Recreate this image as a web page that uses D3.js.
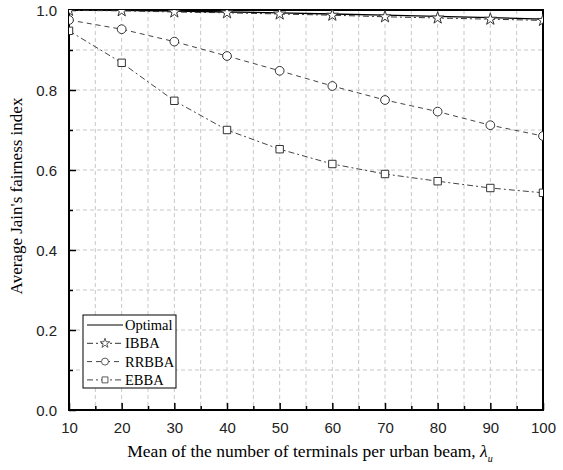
<!DOCTYPE html>
<html>
<head>
<meta charset="utf-8">
<script src="https://cdn.jsdelivr.net/npm/d3@7"></script>
<style>
  body { margin: 0; background: #fff; }
  svg { display: block; }
</style>
</head>
<body>
<div id="chart"></div>
<script>
const terminals = [10, 20, 30, 40, 50, 60, 70, 80, 90, 100]
const optimal = [1.0, 0.999, 0.997, 0.995, 0.993, 0.99, 0.987, 0.984, 0.981, 0.977]
const ibba = [0.999, 0.998, 0.995, 0.993, 0.99, 0.987, 0.983, 0.98, 0.977, 0.974]
const rrbba = [0.975, 0.952, 0.921, 0.885, 0.848, 0.81, 0.775, 0.746, 0.712, 0.685]
const ebba = [0.948, 0.868, 0.773, 0.70, 0.652, 0.615, 0.59, 0.572, 0.555, 0.543]
const xTicks = [10, 20, 30, 40, 50, 60, 70, 80, 90, 100]
const yTicks = [0.0, 0.2, 0.4, 0.6, 0.8, 1.0]

const series = [
  { name: 'Optimal', values: optimal, dash: null, marker: null, color: '#000' },
  { name: 'IBBA', values: ibba, dash: '6,3,2,3', marker: 'star', color: '#333' },
  { name: 'RRBBA', values: rrbba, dash: '5,4', marker: 'circle', color: '#444' },
  { name: 'EBBA', values: ebba, dash: '6,3,2,3', marker: 'square', color: '#444' }
]

const width = 563
const height = 470
const margin = { top: 10, right: 20, bottom: 60, left: 69 }
const iw = width - margin.left - margin.right
const ih = height - margin.top - margin.bottom

const x = d3.scaleLinear().domain([10, 100]).range([0, iw])
const y = d3.scaleLinear().domain([0, 1]).range([ih, 0])

const svg = d3.select('#chart').append('svg')
  .attr('width', width).attr('height', height)

svg.append('defs').append('clipPath').attr('id', 'clip')
  .append('rect').attr('width', iw).attr('height', ih)

const g = svg.append('g').attr('transform', `translate(${margin.left},${margin.top})`)

// grid
const grid = g.append('g').attr('stroke', '#c8c8c8').attr('stroke-dasharray', '4,3').attr('stroke-width', 1)
grid.selectAll('.gx').data(d3.range(15, 100, 5)).enter().append('line')
  .attr('x1', d => x(d)).attr('x2', d => x(d)).attr('y1', 0).attr('y2', ih)
grid.selectAll('.gy').data(d3.range(1, 10).map(d => d / 10)).enter().append('line')
  .attr('y1', d => y(d)).attr('y2', d => y(d)).attr('x1', 0).attr('x2', iw)

// axes with inward ticks
const xAxis = g.append('g').attr('transform', `translate(0,${ih})`)
  .call(d3.axisBottom(x).tickValues(xTicks).tickSizeInner(-7).tickSizeOuter(0).tickPadding(12))
const xMinor = g.append('g').attr('transform', `translate(0,${ih})`)
  .call(d3.axisBottom(x).tickValues(d3.range(15, 100, 10)).tickSizeInner(-4).tickSizeOuter(0).tickFormat(''))
const yAxis = g.append('g')
  .call(d3.axisLeft(y).tickValues(yTicks).tickSizeInner(-7).tickSizeOuter(0).tickPadding(12).tickFormat(d3.format('.1f')))
const yMinor = g.append('g')
  .call(d3.axisLeft(y).tickValues([0.1, 0.3, 0.5, 0.7, 0.9]).tickSizeInner(-4).tickSizeOuter(0).tickFormat(''))

;[xAxis, xMinor, yAxis, yMinor].forEach(a => {
  a.select('.domain').remove()
  a.selectAll('line').attr('stroke', '#000').attr('stroke-width', 1.5)
  a.selectAll('text').attr('font-family', 'Liberation Sans, Arial, sans-serif').attr('font-size', 15).attr('fill', '#222')
})
yAxis.selectAll('text').attr('dy', '0.35em')

// frame
g.append('rect').attr('width', iw).attr('height', ih)
  .attr('fill', 'none').attr('stroke', '#000').attr('stroke-width', 2)

// lines
const plot = g.append('g').attr('clip-path', 'url(#clip)')
const line = d3.line().x((d, i) => x(terminals[i])).y(d => y(d))

const star = d3.symbol().type(d3.symbolStar).size(45)
const circle = d3.symbol().type(d3.symbolCircle).size(60)
const square = d3.symbol().type(d3.symbolSquare).size(55)
const markers = { star, circle, square }

function drawMarker(sel, type) {
  sel.append('path').attr('d', markers[type]())
    .attr('fill', '#fff').attr('stroke', '#333').attr('stroke-width', 1)
}

series.forEach(s => {
  plot.append('path').datum(s.values)
    .attr('fill', 'none').attr('stroke', s.color).attr('stroke-width', s.marker ? 1 : 1.3)
    .attr('stroke-dasharray', s.dash)
    .attr('d', line)
  if (s.marker) {
    s.values.forEach((v, i) => {
      const m = plot.append('g').attr('transform', `translate(${x(terminals[i])},${y(v)})`)
      drawMarker(m, s.marker)
    })
  }
})

// legend
const lg = svg.append('g').attr('transform', 'translate(83,315)')
lg.append('rect').attr('width', 93).attr('height', 73)
  .attr('fill', '#fff').attr('stroke', '#000').attr('stroke-width', 1)
series.forEach((s, i) => {
  const row = lg.append('g').attr('transform', `translate(0,${10 + i * 18.3})`)
  row.append('line').attr('x1', 4).attr('x2', 40).attr('y1', 0).attr('y2', 0)
    .attr('stroke', s.color).attr('stroke-width', 1).attr('stroke-dasharray', s.dash)
  if (s.marker) {
    const m = row.append('g').attr('transform', 'translate(22,0)')
    drawMarker(m, s.marker)
    m.select('path').attr('transform', 'scale(0.8)')
  }
  row.append('text').attr('x', 42).attr('y', 0).attr('dy', '0.35em')
    .attr('font-family', 'Liberation Serif, Times New Roman, serif').attr('font-size', 14.5)
    .text(s.name)
})

// axis titles
const xt = svg.append('text')
  .attr('x', 310).attr('y', 457)
  .attr('text-anchor', 'middle')
  .attr('font-family', 'Liberation Serif, Times New Roman, serif').attr('font-size', 17.5)
xt.append('tspan').text('Mean of the number of terminals per urban beam, ')
xt.append('tspan').attr('font-style', 'italic').text('λ')
xt.append('tspan').attr('font-style', 'italic').attr('font-size', 10).attr('dy', 5).text('u')

svg.append('text')
  .attr('transform', 'translate(22,196) rotate(-90)')
  .attr('text-anchor', 'middle')
  .attr('font-family', 'Liberation Serif, Times New Roman, serif').attr('font-size', 17)
  .text("Average Jain's fairness index")
</script>
</body>
</html>
